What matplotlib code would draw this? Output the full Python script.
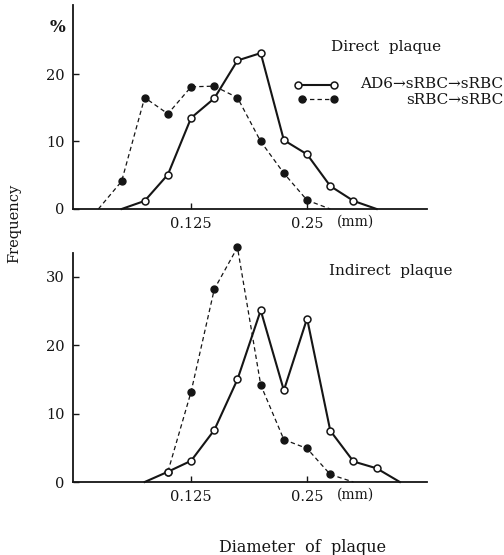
import matplotlib.pyplot as plt
from matplotlib.lines import Line2D

# diameter bins (mm), 5 bins per octave
diam = [0.0718, 0.0825, 0.0947, 0.1088, 0.125, 0.1436, 0.1649,
        0.1895, 0.2176, 0.25, 0.2872, 0.3299, 0.3789, 0.4353]

# Direct plaque
direct_ad6_x = diam[1:13]
direct_ad6 = [0, 1.2, 5.1, 13.5, 16.4, 22.0, 23.1, 10.2, 8.1, 3.4, 1.2, 0]
direct_srbc_x = diam[0:11]
direct_srbc = [0, 4.1, 16.5, 14.1, 18.1, 18.2, 16.5, 10.0, 5.3, 1.3, 0]

# Indirect plaque
indirect_ad6_x = diam[2:14]
indirect_ad6 = [0, 1.5, 3.1, 7.6, 15.0, 25.1, 13.4, 23.9, 7.5, 3.0, 2.0, 0]
indirect_srbc_x = diam[3:11]
indirect_srbc = [1.5, 13.2, 28.2, 34.3, 14.2, 6.2, 4.9, 1.1]
indirect_srbc_tail_x = diam[10:12]
indirect_srbc_tail = [1.1, 0]

xticks = [0.125, 0.25]
xticklabels = ["0.125", "0.25"]

plt.rcParams['font.family'] = ['DejaVu Serif']
ink = "#151515"

fig = plt.figure(figsize=(5.04, 5.55), dpi=100)
W, H = 504.0, 555.0

def px_axes(left, top, right, bottom):
    return fig.add_axes([left / W, 1 - bottom / H, (right - left) / W, (bottom - top) / H])

def style(ax, ymax, yticks):
    ax.set_xscale('log', base=2)
    ax.set_xlim(0.0617, 0.512)
    ax.set_ylim(0, ymax)
    for s in ['top', 'right']:
        ax.spines[s].set_visible(False)
    for s in ['left', 'bottom']:
        ax.spines[s].set_linewidth(1.3)
        ax.spines[s].set_color(ink)
    ax.set_xticks(xticks)
    ax.set_xticklabels(xticklabels)
    ax.minorticks_off()
    ax.set_yticks(yticks)
    ax.tick_params(axis='both', direction='in', length=4, width=1, colors=ink, labelsize=10.5)
    ax.tick_params(axis='x', pad=6)
    ax.tick_params(axis='y', pad=6)
    ax.patch.set_alpha(0)

dash = dict(color=ink, lw=0.9, ls='--', dashes=(3.5, 2.5), clip_on=False)
solid = dict(color=ink, lw=1.5, ls='-', clip_on=False)
open_mk = dict(ls='none', marker='o', ms=5, mfc='white', mec=ink, mew=1.1, clip_on=False, zorder=3)
fill_mk = dict(ls='none', marker='o', ms=5, mfc=ink, mec=ink, clip_on=False, zorder=3)

# top panel
ax1 = px_axes(73, 5, 427, 209)
style(ax1, (209 - 5) / 6.75, [0, 10, 20])
ax1.plot(direct_srbc_x, direct_srbc, **dash)
ax1.plot(direct_srbc_x[1:-1], direct_srbc[1:-1], **fill_mk)
ax1.plot(direct_ad6_x, direct_ad6, **solid)
ax1.plot(direct_ad6_x[1:-1], direct_ad6[1:-1], **open_mk)

# bottom panel
ax2 = px_axes(73, 253, 427, 482)
style(ax2, (482 - 253) / 6.84, [0, 10, 20, 30])
ax2.plot(indirect_srbc_x, indirect_srbc, **dash)
ax2.plot(indirect_srbc_tail_x, indirect_srbc_tail, **dash)
ax2.plot(indirect_srbc_x, indirect_srbc, **fill_mk)
ax2.plot(indirect_ad6_x, indirect_ad6, **solid)
ax2.plot(indirect_ad6_x[1:-1], indirect_ad6[1:-1], **open_mk)

def ftext(x, y, s, **kw):
    kw.setdefault('color', ink)
    kw.setdefault('va', 'center')
    fig.text(x / W, 1 - y / H, s, **kw)

ftext(57, 27, "%", ha='center', fontsize=12, fontweight='bold')
ftext(14, 223, "Frequency", ha='center', rotation=90, fontsize=10.5)
ftext(331, 47, "Direct  plaque", ha='left', fontsize=11)
ftext(329, 271, "Indirect  plaque", ha='left', fontsize=11)
ftext(356, 222, "(mm)", ha='center', fontsize=10)
ftext(356, 495, "(mm)", ha='center', fontsize=10)
ftext(303, 547, "Diameter  of  plaque", ha='center', fontsize=11.5)

# legend
fig.add_artist(Line2D([298 / W, 334 / W], [1 - 85 / H, 1 - 85 / H], color=ink, lw=1.5,
                      marker='o', ms=5, mfc='white', mec=ink, mew=1.1))
fig.add_artist(Line2D([302 / W, 334 / W], [1 - 99 / H, 1 - 99 / H], color=ink, lw=0.9,
                      ls='--', dashes=(3.5, 2.5), marker='o', ms=5, mfc=ink, mec=ink))
ftext(503, 84, "AD6→sRBC→sRBC", ha='right', fontsize=11)
ftext(503, 100, "sRBC→sRBC", ha='right', fontsize=11)

fig.savefig("out.png", dpi=100, facecolor='white')
